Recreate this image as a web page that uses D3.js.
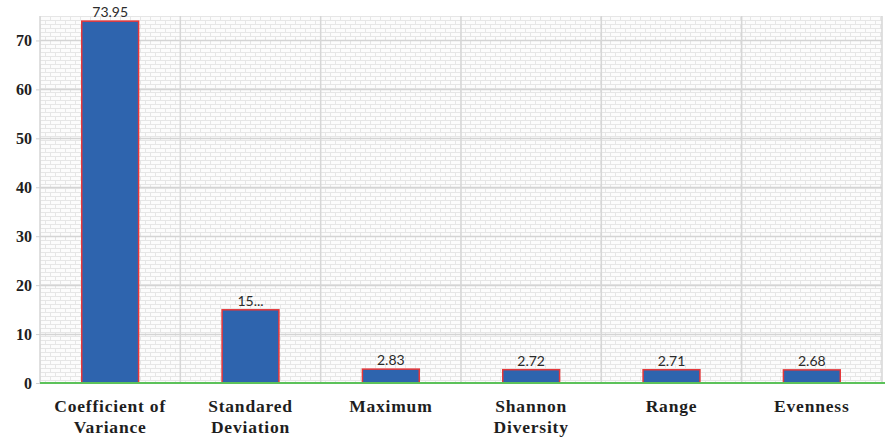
<!DOCTYPE html>
<html>
<head>
<meta charset="utf-8">
<script src="https://cdn.jsdelivr.net/npm/d3@7/dist/d3.min.js"></script>
<style>
  html, body { margin: 0; padding: 0; background: #fff; }
  svg { display: block; }
</style>
</head>
<body>
<div id="chart"></div>
<script>
// Diversity / dispersion statistics
const categories = [
  ["Coefficient of", "Variance"],
  ["Standared", "Deviation"],
  ["Maximum"],
  ["Shannon", "Diversity"],
  ["Range"],
  ["Evenness"]
];
const values = [73.95, 14.96, 2.83, 2.72, 2.71, 2.68];
const valueLabels = ["73.95", "15...", "2.83", "2.72", "2.71", "2.68"];
const yTicks = [0, 10, 20, 30, 40, 50, 60, 70];

const W = 885, H = 438;
const margin = { left: 40, right: 3, top: 16, bottom: 55 };

const svg = d3.select("#chart").append("svg")
  .attr("width", W).attr("height", H);

// brick texture for the plot background
const defs = svg.append("defs");
const pat = defs.append("pattern")
  .attr("id", "brick")
  .attr("patternUnits", "userSpaceOnUse")
  .attr("width", 10).attr("height", 8)
  .attr("x", margin.left).attr("y", margin.top);
pat.append("rect").attr("width", 10).attr("height", 8).attr("fill", "#fcfcfc");
pat.append("path")
  .attr("d", "M0,0.5H10 M0,4.5H10 M0.5,0V4 M5.5,4V8")
  .attr("stroke", "#e6e6e6").attr("stroke-width", 1).attr("fill", "none");

const x = d3.scaleBand()
  .domain(d3.range(categories.length))
  .range([margin.left, W - margin.right])
  .paddingInner(0.595).paddingOuter(0.2975);

const xBand = d3.scaleBand()
  .domain(d3.range(categories.length))
  .range([margin.left, W - margin.right]);

const y = d3.scaleLinear()
  .domain([0, 75])
  .range([H - margin.bottom, margin.top]);

// plot background
svg.append("rect")
  .attr("x", margin.left).attr("y", margin.top)
  .attr("width", W - margin.right - margin.left)
  .attr("height", y(0) - margin.top)
  .attr("fill", "url(#brick)");

// horizontal gridlines
svg.append("g")
  .selectAll("line")
  .data(yTicks.filter(d => d > 0))
  .join("line")
  .attr("x1", margin.left).attr("x2", W - margin.right)
  .attr("y1", d => Math.round(y(d)) + 0.5).attr("y2", d => Math.round(y(d)) + 0.5)
  .attr("stroke", "#d4d4d4").attr("stroke-width", 1.5);

// vertical category separators
svg.append("g")
  .selectAll("line")
  .data(d3.range(categories.length + 1))
  .join("line")
  .attr("x1", i => i < categories.length ? xBand(i) : W - margin.right)
  .attr("x2", i => i < categories.length ? xBand(i) : W - margin.right)
  .attr("y1", margin.top).attr("y2", y(0))
  .attr("stroke", "#d6d6d6").attr("stroke-width", 1.5);

// y axis
const yAxis = svg.append("g")
  .attr("transform", `translate(${margin.left},0)`)
  .call(d3.axisLeft(y).tickValues(yTicks).tickSize(4).tickPadding(4));
yAxis.select(".domain").remove();
yAxis.selectAll(".tick line").attr("stroke", "#d0d0d0");
yAxis.selectAll(".tick text")
  .attr("font-family", "'Liberation Serif', 'Times New Roman', serif")
  .attr("font-weight", "bold")
  .attr("font-size", 16)
  .attr("fill", "#1e1e1e");

// bars
svg.append("g")
  .selectAll("rect")
  .data(values)
  .join("rect")
  .attr("x", (d, i) => x(i))
  .attr("y", d => y(d))
  .attr("width", x.bandwidth())
  .attr("height", d => y(0) - y(d))
  .attr("fill", "#2e64ae")
  .attr("stroke", "#e5373a")
  .attr("stroke-width", 1.5);

// value labels
svg.append("g")
  .selectAll("text")
  .data(values)
  .join("text")
  .attr("x", (d, i) => x(i) + x.bandwidth() / 2)
  .attr("y", d => y(d) - 4)
  .attr("text-anchor", "middle")
  .attr("font-family", "Lato, 'Open Sans', sans-serif")
  .attr("font-size", 14)
  .attr("fill", "#2b2b2b")
  .text((d, i) => valueLabels[i]);

// baseline
svg.append("line")
  .attr("x1", margin.left).attr("x2", W)
  .attr("y1", y(0)).attr("y2", y(0))
  .attr("stroke", "#5cc25a").attr("stroke-width", 2);

// category labels
const cat = svg.append("g")
  .selectAll("text")
  .data(categories)
  .join("text")
  .attr("x", (d, i) => xBand(i) + xBand.bandwidth() / 2)
  .attr("y", y(0) + 29)
  .attr("text-anchor", "middle")
  .attr("font-family", "'Liberation Serif', 'Times New Roman', serif")
  .attr("font-weight", "bold")
  .attr("font-size", 17.5)
  .attr("letter-spacing", 0.8)
  .attr("fill", "#1e1e1e");
cat.selectAll("tspan")
  .data(d => d)
  .join("tspan")
  .attr("x", function () { return d3.select(this.parentNode).attr("x"); })
  .attr("dy", (d, i) => i === 0 ? 0 : 21)
  .text(d => d);
</script>
</body>
</html>
